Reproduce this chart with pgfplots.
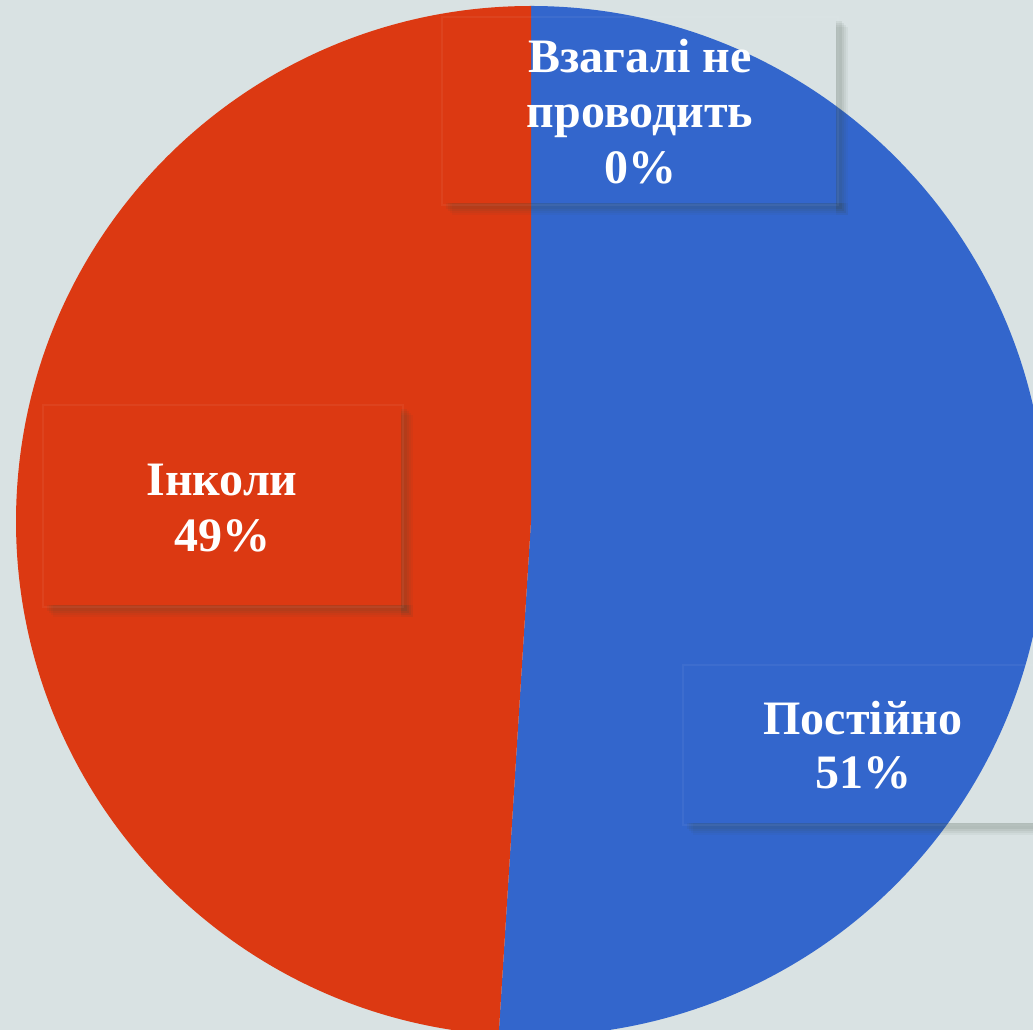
\documentclass[border=0pt]{standalone}
\usepackage{pgfplots}
\pgfplotsset{compat=1.18}
\usepackage{fontspec}
\setmainfont{Liberation Serif}
\definecolor{bg}{HTML}{D9E2E3}
\definecolor{pieblue}{HTML}{3366CC}
\definecolor{piered}{HTML}{DC3912}
\definecolor{shd}{HTML}{3A4A3A}
\newcommand{\lbl}[3]{\node[anchor=base, text=white, inner sep=0pt, font=\fontsize{24bp}{28bp}\selectfont\bfseries] at (axis cs:#1,#2) {#3};}
\newcommand{\shlayer}[6]{%
  \fill[shd, opacity=#6] (axis cs:#1+#5,#2-#5) rectangle (axis cs:#3+#5,#2+2);
  \fill[shd, opacity=#6] (axis cs:#3-2,#2-#5) rectangle (axis cs:#3+#5,#4-#5);
}
\newcommand{\shadowbox}[4]{%
  \shlayer{#1}{#2}{#3}{#4}{10}{0.05}
  \shlayer{#1}{#2}{#3}{#4}{8}{0.06}
  \shlayer{#1}{#2}{#3}{#4}{6}{0.07}
  \shlayer{#1}{#2}{#3}{#4}{4}{0.08}
  \draw[white, opacity=0.05, line width=1bp] (axis cs:#1,#2) rectangle (axis cs:#3,#4);
}
\begin{document}
\begin{tikzpicture}
\begin{axis}[
  width=516.5bp, height=515bp, scale only axis,
  xmin=0, xmax=1033, ymin=0, ymax=1030,
  hide axis, clip=true,
  axis background/.style={fill=bg},
]
% values (percent): Postiyno 51, Inkoly 49, Vzahali ne provodyt 0
\pgfmathsetmacro{\aA}{90}
\pgfmathsetmacro{\aB}{90-3.6*51}
\pgfmathsetmacro{\aC}{\aB-3.6*49}
\pgfmathsetmacro{\aD}{\aC-3.6*0}
\fill[pieblue] (axis cs:531,509) -- ++(\aA:257.5bp) arc[start angle=\aA, end angle=\aB, radius=257.5bp] -- cycle;
\fill[piered] (axis cs:531,509) -- ++(\aB:257.5bp) arc[start angle=\aB, end angle=\aC, radius=257.5bp] -- cycle;
% label boxes
\shadowbox{442}{825}{838}{1013}
\shadowbox{43}{423}{403}{625}
\shadowbox{683}{205}{1043}{365}
% labels
\lbl{640}{957}{Взагалі не}
\lbl{640}{902}{проводить}
\lbl{640}{846}{0\%}
\lbl{222}{534}{Інколи}
\lbl{222}{478}{49\%}
\lbl{863}{295}{Постійно}
\lbl{863}{241}{51\%}
\end{axis}
\end{tikzpicture}
\end{document}
